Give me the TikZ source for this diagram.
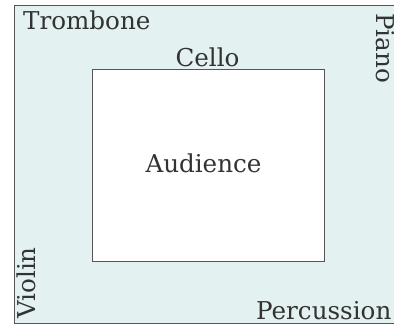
\documentclass[tikz,border=0pt]{standalone}
\usepackage{fontspec}
\setmainfont{DejaVu Serif}
\definecolor{stagefill}{HTML}{E3F1F1}
\definecolor{edgegray}{HTML}{555555}
\definecolor{inkgray}{HTML}{333333}
\tikzset{
  seat/.style={anchor=base west, inner sep=0pt, text=inkgray,
    font=\fontsize{24.6}{29}\selectfont},
  block/.style={draw=edgegray, line width=1pt}
}
\begin{document}
\begin{tikzpicture}[x=1pt, y=-1pt]
  \useasboundingbox (0,0) rectangle (394,326);
  \clip (0,0) rectangle (394,326);

  % Drawing the stage
  \draw [block, fill=stagefill] (14,6) rectangle (402,323);%

  % Drawing the audience block
  \draw [block, fill=white] (92,70) rectangle (324,261);%

  % Marking the players
  \node [seat] (trombone) at (23,30) {Trombone};%
  \node [seat, anchor=base] (cello) at (207.5,67) {Cello};%
  \node [seat, rotate=-90] (piano) at (376,13) {Piano};%
  \node [seat, rotate=90] (violin) at (35,319) {Violin};%
  \node [seat] (percussion) at (256,319) {Percussion};%

  % Marking the audience
  \node [seat, anchor=base] (audience) at (203.5,173) {Audience};%
\end{tikzpicture}
\end{document}
